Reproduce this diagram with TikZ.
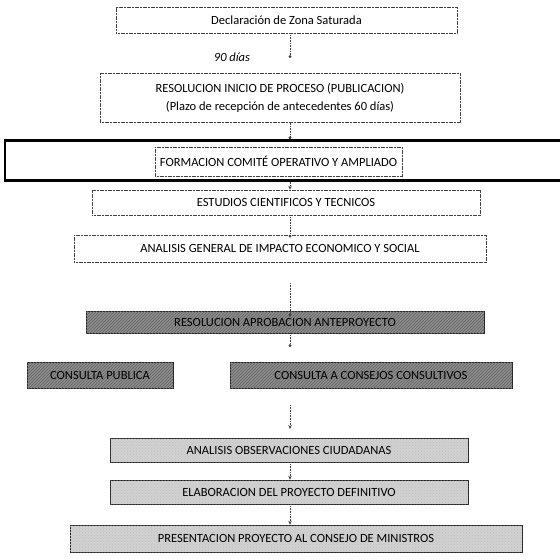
\documentclass[tikz,border=0pt]{standalone}
\usepackage{fontspec}
\setmainfont{Carlito}
\usetikzlibrary{patterns,arrows.meta}
\begin{document}
\begin{tikzpicture}[x=1pt,y=-1pt,
  box/.style={draw=black!75, line width=0.6pt, dash pattern=on 1.2pt off 0.4pt, rectangle, inner sep=0pt, align=center, font=\fontsize{12.5}{15}\selectfont},
  whitebox/.style={box, fill=white},
  darkbox/.style={box, solid, draw=black!85, fill=black!45, postaction={pattern=north east lines, pattern color=black!60}},
  lightbox/.style={box, solid, draw=black!85, fill=black!18, postaction={pattern=crosshatch dots, pattern color=black!25}},
  conn/.style={densely dotted, line width=0.6pt, black!75, -{Stealth[length=4pt,width=3.5pt]}},
  dia/.style={densely dotted, line width=0.6pt, black!75, -{Turned Square[length=3pt,width=3pt]}}
]
\useasboundingbox (0,0) rectangle (560,558);
% boxes
\node[whitebox, minimum width=341, minimum height=26] (b1) at (286.5,20) {Declaración de Zona Saturada};
\node[font=\fontsize{12.5}{15}\selectfont\itshape] (d90) at (232,57) {90 días};
\coordinate (c1) at (290,58);
\node[whitebox, minimum width=360, minimum height=49] (b2) at (280,98) {RESOLUCION INICIO DE PROCESO (PUBLICACION)\\[3pt](Plazo de recepción de antecedentes 60 días)};
\node[draw, line width=2.6pt, minimum width=560, minimum height=40, inner sep=0pt] (frame) at (285,160.5) {};
\node[whitebox, minimum width=247, minimum height=29] (b3) at (278.5,161.5) {FORMACION COMITÉ OPERATIVO Y AMPLIADO};
\node[whitebox, minimum width=388, minimum height=25] (b4) at (286,202.5) {ESTUDIOS CIENTIFICOS Y TECNICOS};
\node[whitebox, minimum width=412, minimum height=27] (b5) at (280,248.5) {ANALISIS GENERAL DE IMPACTO ECONOMICO Y SOCIAL};
\coordinate (c5) at (290,283);
\node[darkbox, minimum width=398, minimum height=22] (b6) at (285,322) {RESOLUCION APROBACION ANTEPROYECTO};
\coordinate (c6) at (290,347);
\node[darkbox, minimum width=146, minimum height=26] (b7) at (100,375) {CONSULTA PUBLICA};
\node[darkbox, minimum width=282, minimum height=26] (b8) at (371,375) {CONSULTA A CONSEJOS CONSULTIVOS};
\coordinate (c7a) at (290,405);
\coordinate (c7b) at (290,429);
\node[lightbox, minimum width=358, minimum height=24] (b9) at (289,450) {ANALISIS OBSERVACIONES CIUDADANAS};
\node[lightbox, minimum width=358, minimum height=24] (b10) at (289,492) {ELABORACION DEL PROYECTO DEFINITIVO};
\node[lightbox, minimum width=452, minimum height=27] (b11) at (296,538.5) {PRESENTACION PROYECTO AL CONSEJO DE MINISTROS};
% connectors
\draw[dia] (b1.south -| c1) -- (c1);
\draw[dia] (b2.south -| c1) -- (frame.north -| c1);
\draw[conn] (frame.south -| c1) -- (b4.north -| c1);
\draw[dia] (b4.south -| c1) -- ([yshift=-3pt]b5.north -| c1);
\draw[dia] (c5) -- ([yshift=-6pt]b6.north -| c1);
\draw[dia] (b6.south -| c1) -- (c6);
\draw[conn] (c7a) -- (c7b);
\draw[conn] (b9.south -| c1) -- (b10.north -| c1);
\draw[conn] (b10.south -| c1) -- (b11.north -| c1);
\end{tikzpicture}
\end{document}
